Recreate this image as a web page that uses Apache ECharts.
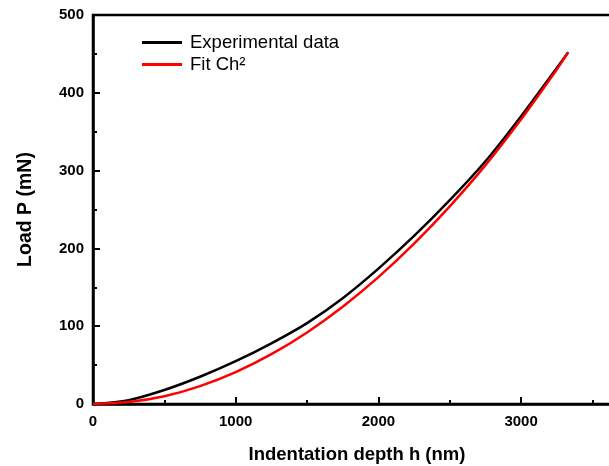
<!DOCTYPE html>
<html>
<head>
<meta charset="utf-8">
<script src="https://cdn.jsdelivr.net/npm/echarts@6/dist/echarts.min.js"></script>
<style>html,body{margin:0;padding:0;background:#fff}#c{width:609px;height:466px}</style>
</head>
<body>
<div id="c"></div>
<script>
// Indentation depth h (nm)
const depth = [0, 250, 500, 750, 1000, 1250, 1500, 1750, 2000, 2250, 2500, 2750, 3000, 3250, 3330];
// Experimental load P (mN)
const experimental = [0, 5, 18, 35, 55, 78, 104, 136, 174, 216, 262, 312, 370, 432, 452];
// Fit Ch² load P (mN)
const fitCh2 = [0, 2.5, 10, 23, 41, 64, 92, 125, 163, 206, 254, 307, 366, 430, 452];
const seriesNames = ['Experimental data', 'Fit Ch²'];
const xTicks = [0, 1000, 2000, 3000];
const yTicks = [0, 100, 200, 300, 400, 500];

const FONT = "'Liberation Sans', Arial, sans-serif";
const pair = (xs, ys) => xs.map((x, i) => [x, ys[i]]);

const chart = echarts.init(document.getElementById('c'), null, {renderer: 'canvas'});
chart.setOption({
  animation: false,
  backgroundColor: '#fff',
  grid: {left: 93, top: 15, width: 528, height: 389, containLabel: false, outerBoundsMode: 'none',
         show: true, borderColor: '#000', borderWidth: 2.5},
  legend: {
    orient: 'vertical', left: 137, top: 28,
    icon: 'rect', itemWidth: 40, itemHeight: 3, itemGap: 3,
    textStyle: {fontFamily: FONT, fontSize: 18.5, color: '#000', padding: [0, 0, 0, 3]},
    data: seriesNames
  },
  xAxis: {
    type: 'value', min: 0, max: 3700, interval: 1000,
    name: 'Indentation depth h (nm)', nameLocation: 'middle', nameGap: 41,
    nameTextStyle: {fontFamily: FONT, fontSize: 18.5, fontWeight: 'bold', color: '#000'},
    axisLine: {show: true, lineStyle: {color: '#000', width: 2.5}},
    axisTick: {show: true, inside: true, length: 7, lineStyle: {color: '#000', width: 2}},
    minorTick: {show: true, splitNumber: 2, length: 4, lineStyle: {color: '#000', width: 2}},
    splitLine: {show: false},
    axisLabel: {
      fontFamily: FONT, fontSize: 15, fontWeight: 'bold', color: '#000', margin: 10,
      formatter: v => xTicks.includes(v) ? String(v) : ''
    }
  },
  yAxis: {
    type: 'value', min: 0, max: 500, interval: 100,
    name: 'Load P (mN)', nameLocation: 'middle', nameGap: 57,
    nameTextStyle: {fontFamily: FONT, fontSize: 19.5, fontWeight: 'bold', color: '#000'},
    axisLine: {show: true, lineStyle: {color: '#000', width: 2.5}},
    axisTick: {show: true, inside: true, length: 7, lineStyle: {color: '#000', width: 2}},
    minorTick: {show: true, splitNumber: 2, length: 4, lineStyle: {color: '#000', width: 2}},
    splitLine: {show: false},
    axisLabel: {
      fontFamily: FONT, fontSize: 15, fontWeight: 'bold', color: '#000', margin: 9,
      formatter: v => yTicks.includes(v) ? String(v) : ''
    }
  },
  series: [
    {name: seriesNames[0], type: 'line', data: pair(depth, experimental), smooth: 0.3,
     symbol: 'none', lineStyle: {color: '#000', width: 2.5}, itemStyle: {color: '#000'}, z: 2},
    {name: seriesNames[1], type: 'line', data: pair(depth, fitCh2), smooth: 0.3,
     symbol: 'none', lineStyle: {color: '#ff0000', width: 2.5}, itemStyle: {color: '#ff0000'}, z: 3}
  ]
});
</script>
</body>
</html>
